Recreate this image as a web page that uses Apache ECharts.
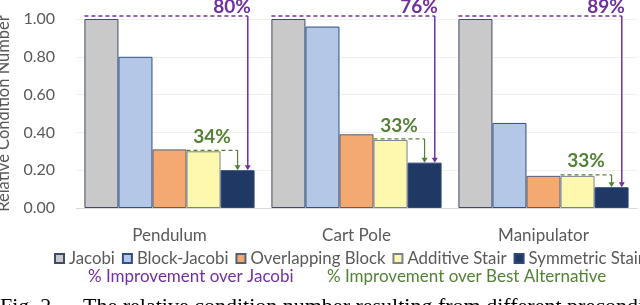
<!DOCTYPE html>
<html>
<head>
<meta charset="utf-8">
<script src="https://cdn.jsdelivr.net/npm/echarts@6/dist/echarts.min.js"></script>
<style>
html,body{margin:0;padding:0;background:#fff;}
#c{width:640px;height:305px;}
</style>
</head>
<body>
<div id="c"></div>
<script>
const categories = ['Pendulum', 'Cart Pole', 'Manipulator'];
const seriesNames = ['Jacobi', 'Block-Jacobi', 'Overlapping Block', 'Additive Stair', 'Symmetric Stair'];
const jacobi = [1.00, 1.00, 1.00];
const blockJacobi = [0.80, 0.96, 0.45];
const overlappingBlock = [0.31, 0.39, 0.17];
const additiveStair = [0.30, 0.36, 0.17];
const symmetricStair = [0.20, 0.24, 0.11];
const improvementOverJacobi = ['80%', '76%', '89%'];
const improvementOverBest = ['34%', '33%', '33%'];
const yTicks = [0, 0.2, 0.4, 0.6, 0.8, 1.0];

const colors = ['#C9C9C9', '#B4C7E7', '#F4A971', '#FDF8AE', '#1F3864'];
const borderColors = ['#3E4C6A', '#2F4F86', '#53607A', '#7A8296', '#2F4A78'];
const PURPLE = '#7030A0';
const GREEN = '#548235';
const GAP_RATIO = 0.09;
const FONT = 'Lato';

const allSeries = [jacobi, blockJacobi, overlappingBlock, additiveStair, symmetricStair];

const barSeries = allSeries.map((d, k) => ({
  name: seriesNames[k],
  type: 'bar',
  data: d,
  barGap: '0%',
  barCategoryGap: (GAP_RATIO * 100) + '%',
  itemStyle: { color: colors[k], borderColor: borderColors[k], borderWidth: 1 },
  silent: true
}));

const annoData = categories.map((c, i) => [i, jacobi[i], Math.min(blockJacobi[i], overlappingBlock[i], additiveStair[i]), symmetricStair[i]]);

function renderAnno(params, api) {
  const i = api.value(0);
  const jv = api.value(1), bv = api.value(2), sv = api.value(3);
  const center = api.coord([i, 0]);
  const catW = api.size([1, 0])[0];
  const groupW = catW * (1 - GAP_RATIO);
  const barW = groupW / 5;
  const x0 = center[0] - groupW / 2;
  const jTop = api.coord([i, jv])[1];
  const bTop = api.coord([i, bv])[1];
  const sTop = api.coord([i, sv])[1];
  const pX = x0 + 4 * barW + 0.8 * barW;
  const gX = x0 + 4.5 * barW;
  const pY = jTop - 3;
  const gY = bTop - 1;
  const gStart = x0 + 3 * barW;
  const children = [
    { type: 'line', shape: { x1: x0, y1: pY, x2: pX, y2: pY }, style: { stroke: PURPLE, lineWidth: 1.5, lineDash: [4, 3] } },
    { type: 'line', shape: { x1: pX, y1: pY, x2: pX, y2: sTop - 4 }, style: { stroke: PURPLE, lineWidth: 1.5 } },
    { type: 'polygon', shape: { points: [[pX - 3, sTop - 5], [pX + 3, sTop - 5], [pX, sTop]] }, style: { fill: PURPLE } },
    { type: 'text', x: pX + 3, y: pY, style: { text: improvementOverJacobi[params.dataIndex], fill: PURPLE, font: 'bold 19px ' + FONT, align: 'right', verticalAlign: 'bottom' } },
    { type: 'line', shape: { x1: gStart, y1: gY, x2: gX, y2: gY }, style: { stroke: GREEN, lineWidth: 1.2, lineDash: [4, 3] } },
    { type: 'line', shape: { x1: gX, y1: gY, x2: gX, y2: sTop - 4 }, style: { stroke: GREEN, lineWidth: 1.2 } },
    { type: 'polygon', shape: { points: [[gX - 3, sTop - 5], [gX + 3, sTop - 5], [gX, sTop]] }, style: { fill: GREEN } },
    { type: 'text', x: (gStart + gX) / 2, y: gY - 4, style: { text: improvementOverBest[params.dataIndex], fill: GREEN, font: 'bold 19px ' + FONT, align: 'center', verticalAlign: 'bottom' } }
  ];
  return { type: 'group', children: children };
}

const chart = echarts.init(document.getElementById('c'), null, { renderer: 'canvas' });
chart.setOption({
  animation: false,
  textStyle: { fontFamily: FONT },
  grid: { left: 76, right: 3, top: 19, bottom: 97, containLabel: false, outerBoundsMode: 'none' },
  xAxis: {
    type: 'category',
    data: categories,
    axisTick: { show: false },
    axisLine: { lineStyle: { color: '#D9D9D9', width: 1 } },
    axisLabel: { color: '#595959', fontSize: 17, fontFamily: FONT, margin: 19 }
  },
  yAxis: {
    type: 'value',
    min: yTicks[0],
    max: yTicks[yTicks.length - 1],
    interval: 0.2,
    name: 'Relative Condition Number',
    nameLocation: 'middle',
    nameGap: 55,
    nameTextStyle: { color: '#595959', fontSize: 16.5, fontFamily: FONT },
    axisLine: { show: false },
    axisTick: { show: false },
    splitLine: { lineStyle: { color: '#F0F0F0', width: 1 } },
    axisLabel: { color: '#595959', fontSize: 16, fontFamily: FONT, margin: 21, formatter: v => v.toFixed(2) }
  },
  legend: {
    data: seriesNames,
    left: 54,
    top: 250,
    width: 600,
    itemWidth: 9,
    itemHeight: 9,
    itemGap: 7,
    icon: 'rect',
    textStyle: { color: '#595959', fontSize: 16.8, fontFamily: FONT },
    padding: 0,
    selectedMode: false
  },
  graphic: [
    { type: 'text', left: 88, top: 268, style: { text: '% Improvement over Jacobi', fill: PURPLE, font: '17px ' + FONT } },
    { type: 'text', left: 327, top: 268, style: { text: '% Improvement over Best Alternative', fill: GREEN, font: '17px ' + FONT } },
    { type: 'text', left: 0, top: 296, style: { text: 'Fig. 2.', fill: '#000', font: '22px "Liberation Serif"' } },
    { type: 'text', left: 83, top: 296, style: { text: 'The relative condition number resulting from different preconditioners', fill: '#000', font: '22px "Liberation Serif"' } }
  ],
  series: barSeries.concat([{
    type: 'custom',
    renderItem: renderAnno,
    data: annoData,
    clip: false,
    silent: true,
    z: 10,
    encode: { x: 0, y: 1 }
  }])
});
</script>
</body>
</html>
